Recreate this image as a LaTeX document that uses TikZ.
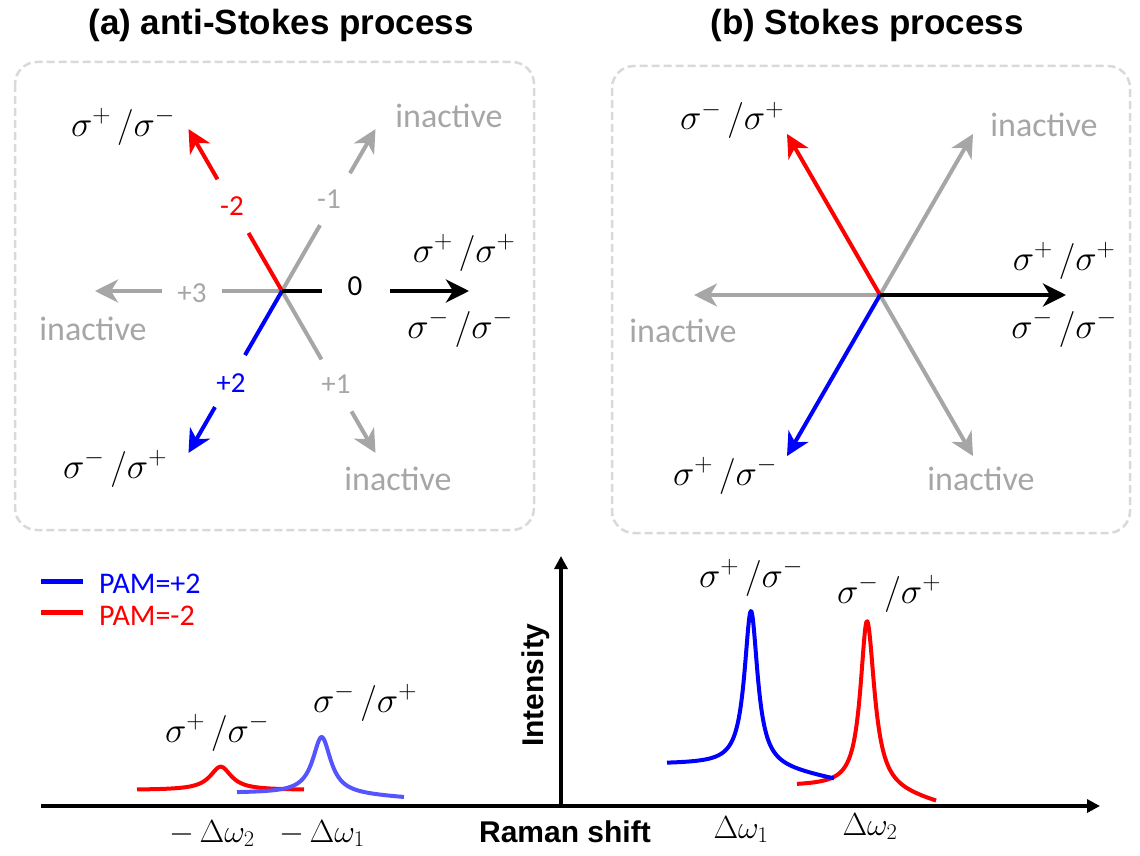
\RequirePackage{fix-cm}
\documentclass[tikz,border=0pt]{standalone}
\usepackage{fontspec}
\setmainfont{Carlito}
\newfontfamily\arialfont{Liberation Sans}
\usetikzlibrary{arrows.meta,calc}
\definecolor{grayc}{RGB}{166,166,166}
\definecolor{boxc}{RGB}{217,217,217}
\definecolor{myred}{RGB}{255,0,0}
\definecolor{myblue}{RGB}{0,0,255}
\definecolor{lightblue}{RGB}{85,85,255}
\newcommand{\pp}[2]{$\sigma^{#1}\mkern3mu/\sigma^{#2}$}
\begin{document}
\begin{tikzpicture}[x=1pt,y=-1pt,
  every node/.style={inner sep=0pt, anchor=base},
  ttl/.style={font=\arialfont\bfseries\fontsize{35}{40}\selectfont},
  axlab/.style={font=\arialfont\bfseries\fontsize{30}{36}\selectfont},
  pol/.style={font=\fontsize{36}{40}\selectfont},
  dlab/.style={font=\fontsize{32}{36}\selectfont},
  inact/.style={text=grayc, font=\fontsize{34}{40}\selectfont},
  numlab/.style={font=\fontsize{29}{34}\selectfont},
  leglab/.style={font=\fontsize{30}{34}\selectfont, anchor=base west},
  panelbox/.style={draw=boxc, line width=2.5pt, dash pattern=on 8pt off 4pt, rounded corners=22pt},
  ray/.style={line width=4pt},
  rayarrow/.style={line width=4pt, -{Stealth[length=23pt,width=23pt,inset=7pt]}},
  axisline/.style={line width=4.5pt, -{Triangle[length=13pt,width=13pt]}},
  curve/.style={line width=4pt, line join=round},
  legline/.style={line width=5pt},
]
\useasboundingbox (0,0) rectangle (1140,856);

% titles
\node[ttl] (ta) at (281,35) {(a) anti-Stokes process};
\node[ttl] (tb) at (867,35) {(b) Stokes process};

% panel boxes
\draw[panelbox] (15,62) rectangle (534,530);
\draw[panelbox] (612,66) rectangle (1130,533);

% ---------- panel (a) ----------
\coordinate (Oa) at (282,291);
\draw[ray,grayc] (Oa) -- ([shift={(180:60)}]Oa);
\draw[rayarrow,grayc] ([shift={(180:120)}]Oa) -- ([shift={(180:187)}]Oa);
\draw[ray,grayc] (Oa) -- ([shift={(-60:76)}]Oa);
\draw[rayarrow,grayc] ([shift={(-60:136)}]Oa) -- ([shift={(-60:187)}]Oa);
\draw[ray,grayc] (Oa) -- ([shift={(60:79)}]Oa);
\draw[rayarrow,grayc] ([shift={(60:139)}]Oa) -- ([shift={(60:187)}]Oa);
\draw[ray,myred] (Oa) -- ([shift={(-120:67)}]Oa);
\draw[rayarrow,myred] ([shift={(-120:129)}]Oa) -- ([shift={(-120:187)}]Oa);
\draw[ray,myblue] (Oa) -- ([shift={(120:74)}]Oa);
\draw[rayarrow,myblue] ([shift={(120:134)}]Oa) -- ([shift={(120:187)}]Oa);
\draw[ray,black] (Oa) -- ([shift={(0:40)}]Oa);
\draw[rayarrow,black] ([shift={(0:108)}]Oa) -- ([shift={(0:187)}]Oa);

\node[numlab,text=myred] (nm2) at (232,215) {-2};
\node[numlab,text=grayc] (nm1) at (329,208) {-1};
\node[numlab,text=grayc] (np3) at (192,302) {+3};
\node[numlab] (n0) at (355,295) {0};
\node[numlab,text=myblue] (np2) at (231,392) {+2};
\node[numlab,text=grayc] (np1) at (336,393) {+1};

\node[pol] (a1) at (123,136) {\pp{+}{-}};
\node[inact] (a2) at (449,128) {inactive};
\node[pol] (a3) at (464,262) {\pp{+}{+}};
\node[pol] (a4) at (460,338) {\pp{-}{-}};
\node[inact] (a5) at (93,340) {inactive};
\node[pol] (a6) at (115,478) {\pp{-}{+}};
\node[inact] (a7) at (398,490) {inactive};

% ---------- panel (b) ----------
\coordinate (Ob) at (880,295);
\draw[rayarrow,grayc] (Ob) -- ([shift={(180:186)}]Ob);
\draw[rayarrow,grayc] (Ob) -- ([shift={(-60:186)}]Ob);
\draw[rayarrow,grayc] (Ob) -- ([shift={(60:186)}]Ob);
\draw[rayarrow,myred] (Ob) -- ([shift={(-120:186)}]Ob);
\draw[rayarrow,myblue] (Ob) -- ([shift={(120:186)}]Ob);
\draw[rayarrow,black] (Ob) -- ([shift={(0:186)}]Ob);

\node[pol] (b1) at (732,130) {\pp{-}{+}};
\node[inact] (b2) at (1044,137) {inactive};
\node[pol] (b3) at (1064,270) {\pp{+}{+}};
\node[pol] (b4) at (1064,338) {\pp{-}{-}};
\node[inact] (b5) at (683,342) {inactive};
\node[pol] (b6) at (725,485) {\pp{+}{-}};
\node[inact] (b7) at (981,490) {inactive};

% ---------- spectrum ----------
\coordinate (xs) at (41,806);
\coordinate (org) at (561,806);
\coordinate (xe) at (1100,806);
\coordinate (ye) at (561,556);
\draw[axisline] (xs) -- (xe);
\draw[axisline] (org) -- (ye);

% legend
\coordinate (lb1) at (41,581); \coordinate (lb2) at (83,581);
\coordinate (lr1) at (41,612); \coordinate (lr2) at (83,612);
\draw[legline,myblue] (lb1) -- (lb2);
\draw[legline,myred] (lr1) -- (lr2);
\node[leglab,text=myblue] (pam1) at (99,593) {PAM=+2};
\node[leglab,text=myred] (pam2) at (99,625) {PAM=-2};

% curves
\draw[curve,myred] plot[domain=137:304,samples=200] (\x,{790 - 23.3/(1+((\x-220.7)/13)^2)});
\draw[curve,lightblue] plot[domain=237:404,samples=200] (\x,{793 + 0.06*max(\x-321.7,0) - 56/(1+((\x-321.7)/11)^2)});
\draw[curve,myred] plot[domain=797:936,samples=250] (\x,{786 + 0.25*max(\x-867,0) - 165/(1+((\x-867)/(\x<867?8:9))^2)});
\draw[curve,myblue] plot[domain=667:834,samples=250] (\x,{764 + 0.19*max(\x-751,0) - 153/(1+((\x-751)/8)^2)});

% labels
\node[pol] (c1) at (217,742) {\pp{+}{-}};
\node[pol] (c2) at (365,712) {\pp{-}{+}};
\node[pol] (c3) at (751,587) {\pp{+}{-}};
\node[pol] (c4) at (889,603) {\pp{-}{+}};
\node[dlab] (d1) at (212,842) {$-\,\Delta\omega_2$};
\node[dlab] (d2) at (322,842) {$-\,\Delta\omega_1$};
\node[dlab] (d3) at (741,838) {$\Delta\omega_1$};
\node[dlab] (d4) at (870,835) {$\Delta\omega_2$};
\node[axlab] (xl) at (565,842) {Raman shift};
\node[axlab,rotate=90] (yl) at (543,685) {Intensity};
\end{tikzpicture}
\end{document}
